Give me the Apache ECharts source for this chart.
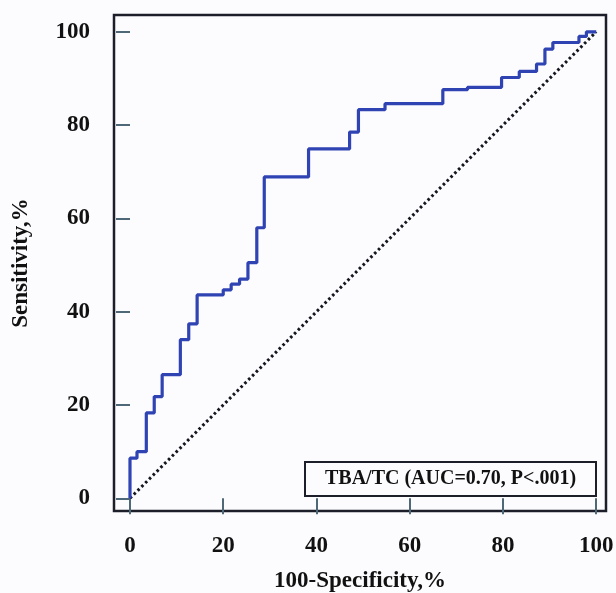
<!DOCTYPE html>
<html>
<head>
<meta charset="utf-8">
<script src="https://cdn.jsdelivr.net/npm/echarts@6/dist/echarts.min.js"></script>
<style>
  html, body { margin: 0; padding: 0; background: #fcfcfe; }
  #main { width: 616px; height: 593px; }
</style>
</head>
<body>
<div id="main"></div>
<script>
// ROC step corners: at each fpr the curve rises to the matching tpr
const fpr = [0, 0, 1.5, 3.5, 5.2, 6.9, 10.8, 12.6, 14.4, 20, 21.7, 23.5, 25.3, 27.2, 28.8,
  38.3, 47.1, 49, 54.7, 67.1, 72.4, 79.7, 83.5, 87.2, 89.0, 90.7, 96.3, 97.9, 100];
const tpr = [0, 8.6, 10, 18.3, 21.8, 26.5, 34, 37.4, 43.6, 44.7, 45.9, 47, 50.5, 58, 68.9,
  74.9, 78.5, 83.3, 84.6, 87.6, 88.1, 90.2, 91.5, 93.1, 96.3, 97.7, 99.0, 100, 100];
const refLine = [[0, 0], [100, 100]];
const tickValues = [0, 20, 40, 60, 80, 100];
const seriesName = "TBA/TC (AUC=0.70, P<.001)";

const font = "'Liberation Serif', 'DejaVu Serif', serif";
const chart = echarts.init(document.getElementById("main"));

const axisBase = {
  type: "value",
  axisLine: { show: false },
  splitLine: { show: false },
  axisTick: {
    show: true,
    inside: false,
    customValues: tickValues,
    lineStyle: { color: "#4f6878", width: 2 },
  },
  axisLabel: {
    customValues: tickValues,
    color: "#111",
    fontFamily: font,
    fontWeight: "bold",
    fontSize: 23,
  },
  nameLocation: "middle",
  nameTextStyle: {
    color: "#111",
    fontFamily: font,
    fontWeight: "bold",
    fontSize: 23,
  },
};

const option = {
  backgroundColor: "#fcfcfe",
  animation: false,
  title: {
    text: seriesName,
    left: 305,
    top: 462,
    padding: [7, 20, 7, 20],
    borderColor: "#1c1f2a",
    borderWidth: 2,
    textStyle: {
      color: "#111",
      fontFamily: font,
      fontWeight: "bold",
      fontSize: 20,
    },
  },
  grid: {
    left: 114,
    right: 10,
    top: 15,
    bottom: 82,
    outerBoundsMode: "none",
    containLabel: false,
    show: true,
    borderColor: "#1c1f2a",
    borderWidth: 2.5,
    backgroundColor: "transparent",
  },
  xAxis: Object.assign({}, axisBase, {
    min: -3.43,
    max: 102.1,
    name: "100-Specificity,%",
    nameGap: 59,
    axisTick: Object.assign({}, axisBase.axisTick, { length: 16 }),
    axisLabel: Object.assign({}, axisBase.axisLabel, { margin: 24 }),
  }),
  yAxis: Object.assign({}, axisBase, {
    min: -2.72,
    max: 103.6,
    name: "Sensitivity,%",
    nameGap: 81,
    axisTick: Object.assign({}, axisBase.axisTick, { length: 14 }),
    axisLabel: Object.assign({}, axisBase.axisLabel, { margin: 24 }),
  }),
  series: [
    {
      name: "reference",
      type: "line",
      data: refLine,
      symbol: "none",
      silent: true,
      lineStyle: { color: "#15171f", width: 3, type: [2.6, 2.8] },
    },
    {
      name: seriesName,
      type: "line",
      step: "end",
      data: fpr.map((x, i) => [x, tpr[i]]),
      symbol: "none",
      lineStyle: { color: "#2f43b3", width: 3.2 },
    },
  ],
};

chart.setOption(option);
</script>
</body>
</html>
